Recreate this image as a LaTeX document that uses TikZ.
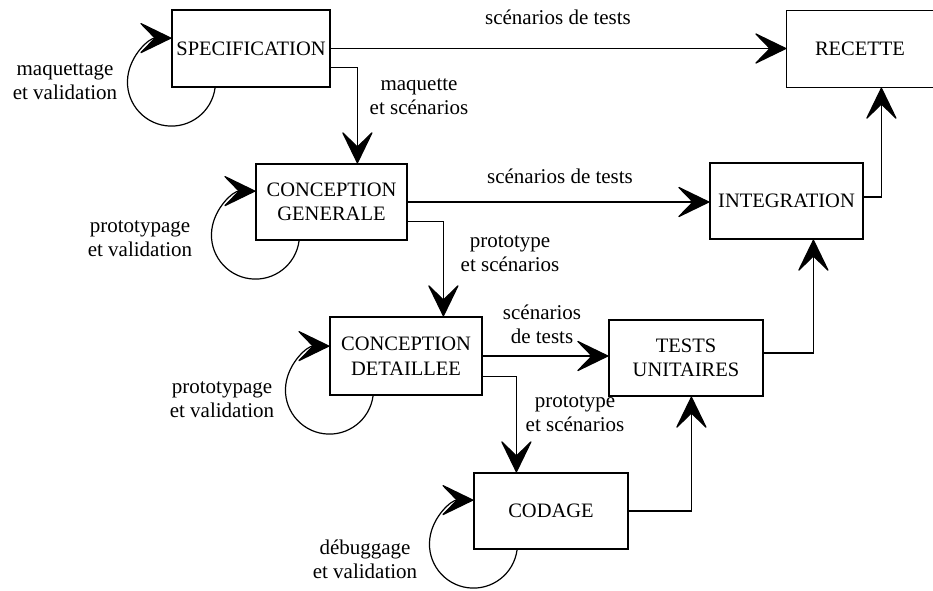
\documentclass[tikz,border=0pt]{standalone}
\usepackage{fontspec}
\setmainfont{Liberation Serif}
\usetikzlibrary{arrows.meta,calc}
\newcommand\bxfont{\fontsize{20.5}{24.5}\selectfont}
\newcommand\lbfont{\fontsize{21}{24}\selectfont}
\newcommand\selfloop[1]{\draw[arr] ($(#1.south west)+(43.7,0)$) arc[start angle=-7.2, end angle=-270, radius=44pt];}
\begin{document}
\begin{tikzpicture}[x=1pt,y=-1pt,
  box/.style={draw, line width=1.2pt, inner sep=0pt, align=center, font=\bxfont, minimum height=76pt},
  lbl/.style={inner sep=0pt, align=center, font=\lbfont},
  arr/.style={line width=1.2pt, -{Stealth[length=34pt,width=33pt,inset=16pt,round]}}]
\useasboundingbox[fill=white] (0,0) rectangle (933,590);
% boxes
\node[box, minimum width=158pt, minimum height=77pt] (spec) at (251,48.5) {SPECIFICATION};
\node[box, draw=none, minimum width=146pt] (recette) at (860,49) {RECETTE};
\draw[line width=1.2pt] (recette.north east) -- (recette.north west) -- (recette.south west) -- (recette.south east);
\node[box, minimum width=151pt] (cg) at (331.5,202) {CONCEPTION\\GENERALE};
\node[box, minimum width=153pt] (integ) at (786.5,201) {INTEGRATION};
\node[box, minimum width=152pt, minimum height=78pt] (cd) at (406,356) {CONCEPTION\\DETAILLEE};
\node[box, minimum width=154pt] (tu) at (686,358) {TESTS\\UNITAIRES};
\node[box, minimum width=154pt] (codage) at (551,511) {CODAGE};
% connectors
\draw[arr] (spec.east) -- (spec.east -| recette.west);
\draw[arr] ($(spec.south east)+(0,-20)$) -| ($(cg.north west)+(102,0)$);
\draw[arr] (cg.east) -- (cg.east -| integ.west);
\draw[arr] ($(cg.south east)+(0,-19)$) -| ($(cd.north west)+(114,0)$);
\draw[arr] (cd.east) -- (cd.east -| tu.west);
\draw[arr] ($(cd.south east)+(0,-19)$) -| ($(codage.north west)+(43,0)$);
\draw[arr] (codage.east) -| ($(tu.south west)+(83,0)$);
\draw[arr] ($(tu.east)+(0,-5)$) -| ($(integ.south west)+(104,0)$);
\draw[arr] ($(integ.east)+(0,-4)$) -| ($(recette.south west)+(95,0)$);
% self loops
\selfloop{spec}
\selfloop{cg}
\selfloop{cd}
\selfloop{codage}
% labels
\node[lbl] (l1) at (558,17) {scénarios de tests};
\node[lbl] (l2) at (419,97) {maquette\\et scénarios};
\node[lbl] (l3) at (560,176) {scénarios de tests};
\node[lbl] (l4) at (510,254) {prototype\\et scénarios};
\node[lbl] (l5) at (542,324) {scénarios\\de tests};
\node[lbl] (l6) at (575,414) {prototype\\et scénarios};
\node[lbl] (l7) at (65,82) {maquettage\\et validation};
\node[lbl] (l8) at (140,239) {prototypage\\et validation};
\node[lbl] (l9) at (222,400) {prototypage\\et validation};
\node[lbl] (l10) at (365,559) {débuggage\\et validation};
\end{tikzpicture}
\end{document}
